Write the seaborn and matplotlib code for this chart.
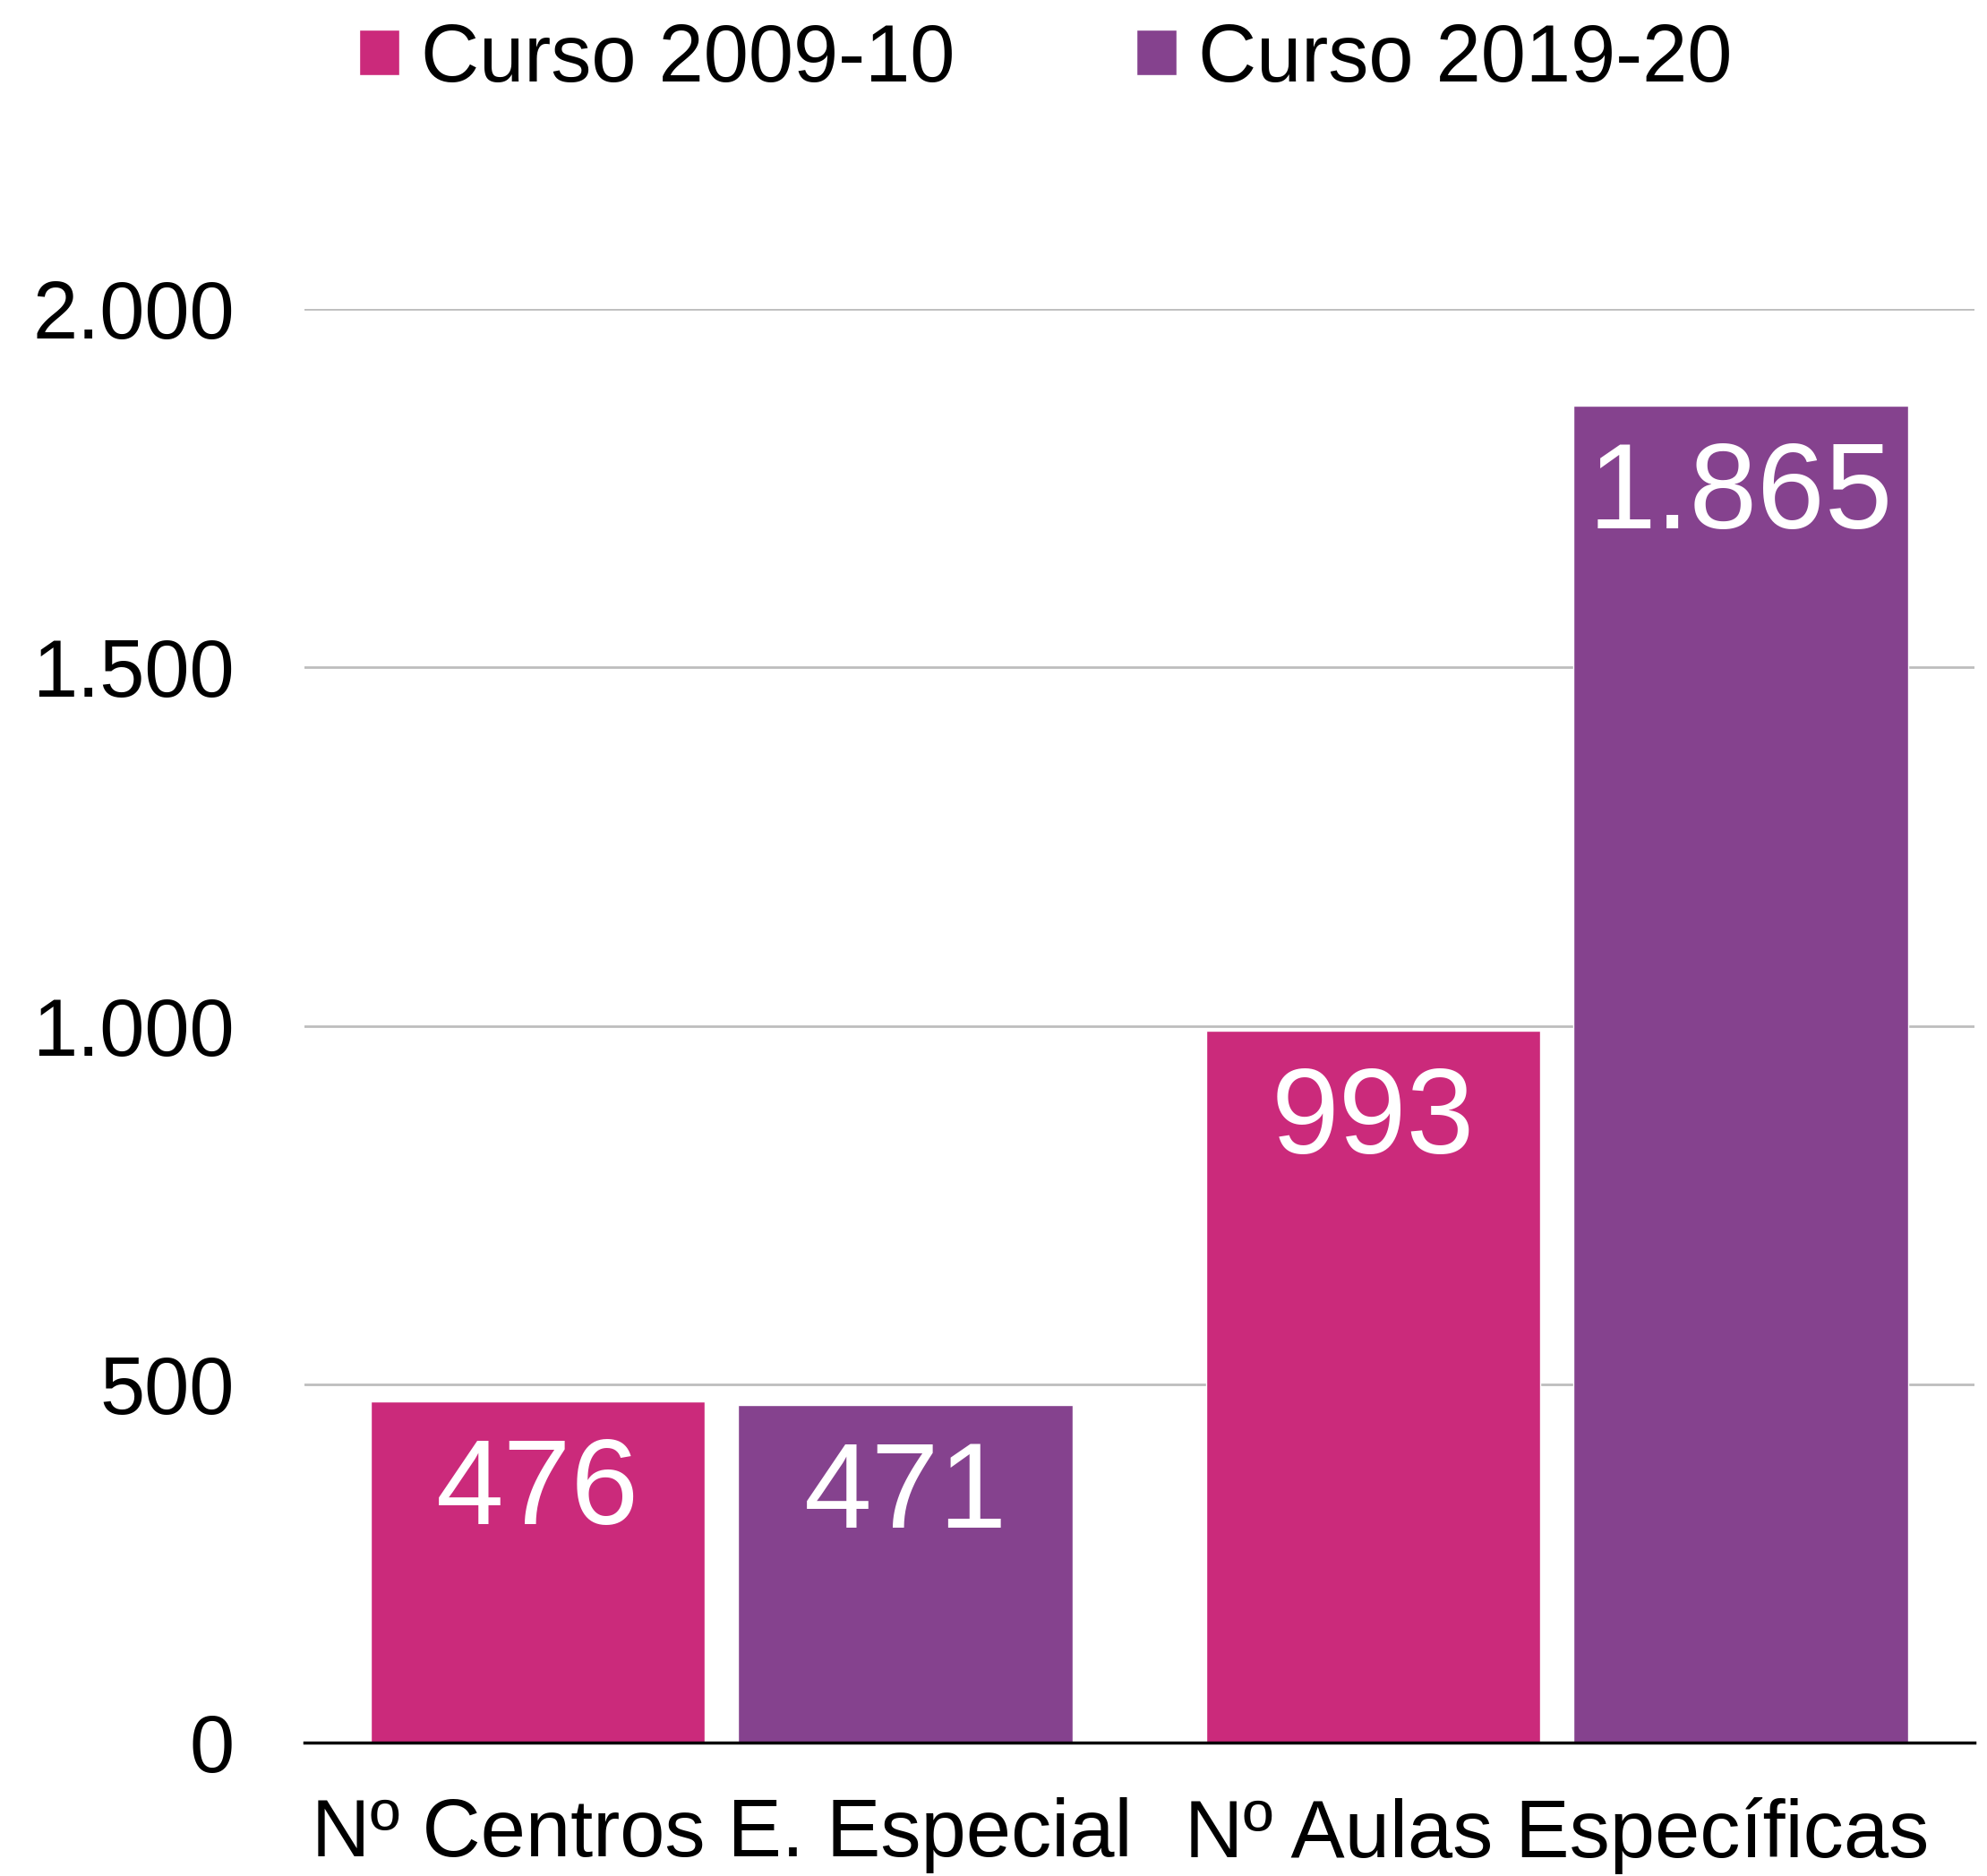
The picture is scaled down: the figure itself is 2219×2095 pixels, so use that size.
import matplotlib
matplotlib.use("Agg")
import matplotlib.pyplot as plt
import seaborn as sns
import pandas as pd
from matplotlib.ticker import FuncFormatter, FixedLocator

categories = ["Nº Centros E. Especial", "Nº Aulas Específicas"]
series = ["Curso 2009-10", "Curso 2019-20"]
values_2009 = [476, 993]
values_2019 = [471, 1865]
y_ticks = [0, 500, 1000, 1500, 2000]
colors = ["#CB2A7B", "#85428E"]

df = pd.DataFrame({
    "categoria": categories * 2,
    "curso": [series[0]] * len(categories) + [series[1]] * len(categories),
    "valor": values_2009 + values_2019,
})

sns.set_style("white")
plt.rcParams["font.family"] = ["Liberation Sans", "DejaVu Sans"]
plt.rcParams["text.color"] = "black"
plt.rcParams["xtick.color"] = "black"
plt.rcParams["ytick.color"] = "black"


def fmt(v):
    return f"{int(round(v)):,}".replace(",", ".")


fig = plt.figure(figsize=(22.19, 20.95), dpi=100)
ax = fig.add_axes([0.153, 0.0711, 0.8407, 0.7642])
sns.barplot(data=df, x="categoria", y="valor", hue="curso", palette=colors,
            width=0.88, gap=0.09, ax=ax, legend=True, saturation=1)

ax.set_ylim(0, 2000)
ax.set_xlim(-0.5, 1.5)
ax.yaxis.set_major_locator(FixedLocator(y_ticks))
ax.yaxis.set_major_formatter(FuncFormatter(lambda v, p: fmt(v)))
ax.set_xlabel("")
ax.set_ylabel("")
ax.yaxis.grid(True, color="#BDBDBD", lw=2)
ax.xaxis.grid(False)
ax.set_axisbelow(True)
for s in ["top", "right", "left"]:
    ax.spines[s].set_visible(False)
ax.spines["bottom"].set_color("black")
ax.spines["bottom"].set_linewidth(2.5)
ax.tick_params(axis="y", length=0, pad=56, labelsize=65, labelcolor="black")
ax.tick_params(axis="x", length=0, pad=44, labelsize=65, labelcolor="black")

for container in ax.containers:
    for bar in container:
        h = bar.get_height()
        ax.annotate(fmt(h), (bar.get_x() + bar.get_width() / 2, h),
                    xytext=(0, -28), textcoords="offset points",
                    ha="center", va="top", color="white", fontsize=98)

handles, labels = ax.get_legend_handles_labels()
ax.get_legend().remove()
leg = fig.legend(handles, labels, loc="center left", bbox_to_anchor=(0.1806, 0.968),
                 ncol=2, frameon=False, fontsize=65, handlelength=0.5,
                 handleheight=0.5, handletextpad=0.27, columnspacing=2.24,
                 borderpad=0, borderaxespad=0)
for t in leg.get_texts():
    t.set_color("black")

fig.savefig("out.png", dpi=100)
